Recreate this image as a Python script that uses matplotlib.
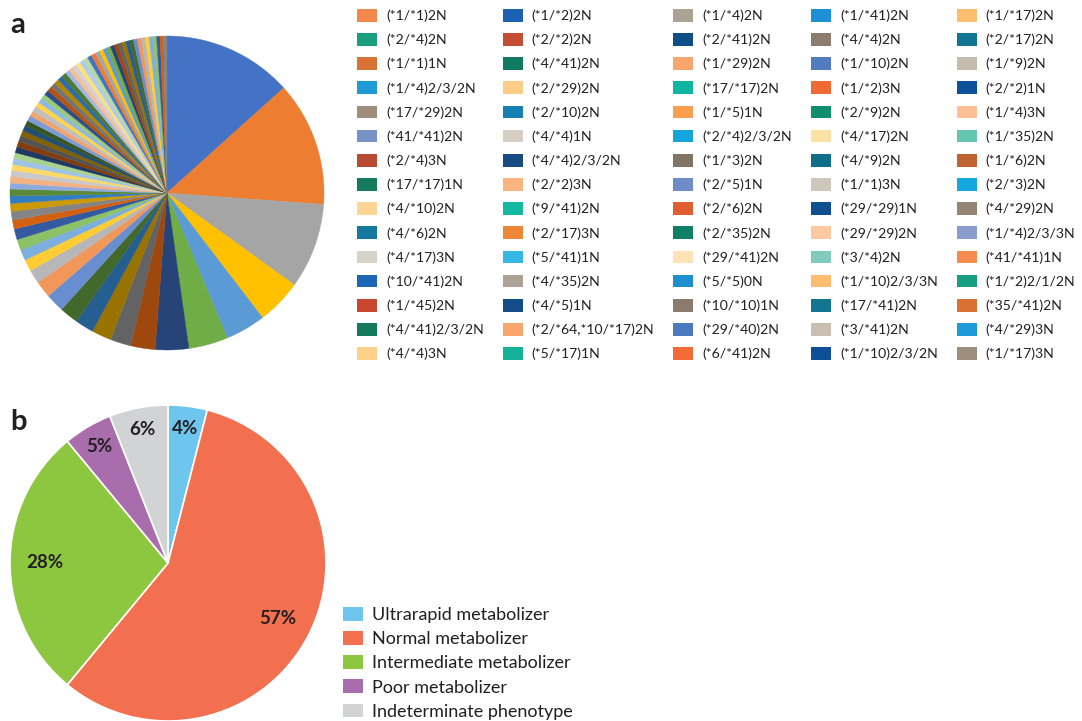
import colorsys
import numpy as np
import matplotlib.pyplot as plt
from matplotlib.colors import to_rgb
from matplotlib.patches import Patch

# ---- panel a: CYP2D6 diplotypes (row-major order, same as the legend reads) ----
labels_a = [
    "(*1/*1)2N", "(*1/*2)2N", "(*1/*4)2N", "(*1/*41)2N", "(*1/*17)2N",
    "(*2/*4)2N", "(*2/*2)2N", "(*2/*41)2N", "(*4/*4)2N", "(*2/*17)2N",
    "(*1/*1)1N", "(*4/*41)2N", "(*1/*29)2N", "(*1/*10)2N", "(*1/*9)2N",
    "(*1/*4)2/3/2N", "(*2/*29)2N", "(*17/*17)2N", "(*1/*2)3N", "(*2/*2)1N",
    "(*17/*29)2N", "(*2/*10)2N", "(*1/*5)1N", "(*2/*9)2N", "(*1/*4)3N",
    "(*41/*41)2N", "(*4/*4)1N", "(*2/*4)2/3/2N", "(*4/*17)2N", "(*1/*35)2N",
    "(*2/*4)3N", "(*4/*4)2/3/2N", "(*1/*3)2N", "(*4/*9)2N", "(*1/*6)2N",
    "(*17/*17)1N", "(*2/*2)3N", "(*2/*5)1N", "(*1/*1)3N", "(*2/*3)2N",
    "(*4/*10)2N", "(*9/*41)2N", "(*2/*6)2N", "(*29/*29)1N", "(*4/*29)2N",
    "(*4/*6)2N", "(*2/*17)3N", "(*2/*35)2N", "(*29/*29)2N", "(*1/*4)2/3/3N",
    "(*4/*17)3N", "(*5/*41)1N", "(*29/*41)2N", "(*3/*4)2N", "(*41/*41)1N",
    "(*10/*41)2N", "(*4/*35)2N", "(*5/*5)0N", "(*1/*10)2/3/3N", "(*1/*2)2/1/2N",
    "(*1/*45)2N", "(*4/*5)1N", "(*10/*10)1N", "(*17/*41)2N", "(*35/*41)2N",
    "(*4/*41)2/3/2N", "(*2/*64,*10/*17)2N", "(*29/*40)2N", "(*3/*41)2N", "(*4/*29)3N",
    "(*4/*4)3N", "(*5/*17)1N", "(*6/*41)2N", "(*1/*10)2/3/2N", "(*1/*17)3N",
]

# percent share of each diplotype
share_a = [
    13.2, 12.7, 8.7, 4.6, 4.1,
    4.0, 3.4, 2.5, 2.1, 2.0,
    1.9, 1.9, 1.9, 1.7, 1.4,
    1.2, 1.1, 1.1, 1.1, 0.9,
    0.9, 0.8, 0.75, 0.7, 0.6,
    0.65, 0.65, 0.6, 0.6, 0.6,
    0.6, 0.6, 0.6, 0.55, 0.55,
    0.55, 0.55, 0.55, 0.55, 0.5,
    0.5, 0.5, 0.5, 0.5, 0.5,
    0.5, 0.5, 0.5, 0.45, 0.45,
    0.45, 0.45, 0.45, 0.45, 0.45,
    0.45, 0.45, 0.4, 0.4, 0.4,
    0.4, 0.4, 0.4, 0.4, 0.4,
    0.4, 0.4, 0.4, 0.4, 0.4,
    0.4, 0.35, 0.35, 0.35, 0.35,
]

# swatch colours printed in the legend (they differ from the slices in the original)
legend_cols_a = [
    "#F4874B", "#1B62B3", "#ADA394", "#1E90D5", "#FDBE6E",
    "#1A9E80", "#C44E33", "#0F4F88", "#8C7C6E", "#127592",
    "#D87236", "#107A62", "#F8A66E", "#517DC0", "#C5BBAE",
    "#1E9BD7", "#FDCD88", "#0FB5A0", "#F26A33", "#0F509A",
    "#9E8E7E", "#1780B3", "#F8A050", "#0F8E70", "#FCC094",
    "#7892C8", "#D5CEC2", "#14A5DD", "#FEE0A5", "#64C6B2",
    "#B94B35", "#174B82", "#827466", "#0F6E88", "#C06232",
    "#157A5E", "#FCB57F", "#6F8BC8", "#CFC7BB", "#17A7E0",
    "#FDD595", "#15B8A0", "#DF5E32", "#0F4F90", "#958575",
    "#15789E", "#EE8638", "#0F7F68", "#FDC9A0", "#8A9DCE",
    "#D8D3CA", "#35B8E6", "#FDE3B5", "#80CBBC", "#F48C50",
    "#1D65B5", "#ADA294", "#1E90D0", "#FDBD6E", "#1A9E82",
    "#C9472F", "#134C88", "#8A7B6C", "#127592", "#D97132",
    "#157A5C", "#F8A66E", "#4D79C0", "#C8BEB2", "#1E9BD8",
    "#FDCF88", "#14B298", "#F26A36", "#0F4F96", "#9E8E7E",
]

# ---- panel b: phenotypes ----
labels_b = ["Ultrarapid metabolizer", "Normal metabolizer", "Intermediate metabolizer",
            "Poor metabolizer", "Indeterminate phenotype"]
share_b = [4, 57, 28, 5, 6]
colors_b = ["#6EC6EE", "#F26F50", "#8DC63F", "#A96DAE", "#D1D3D4"]

TXT = "#231F20"
FONT = "Lato"

# excel default pie colours: 6 accents, then darker / lighter variants
accents = ["#4472C4", "#ED7D31", "#A5A5A5", "#FFC000", "#5B9BD5", "#70AD47"]
variants = [(1, 0), (0.6, 0), (0.8, 0.2), (0.8, 0), (0.6, 0.4),
            (0.5, 0), (0.7, 0.3), (0.7, 0), (0.5, 0.5)]


def excel_color(i):
    h, l, s = colorsys.rgb_to_hls(*to_rgb(accents[i % 6]))
    mod, off = variants[(i // 6) % len(variants)]
    return colorsys.hls_to_rgb(h, min(l * mod + off, 1.0), s)


plt.rcParams['font.family'] = [FONT, 'DejaVu Sans']
W, H = 1082, 721
fig = plt.figure(figsize=(W / 100, H / 100), dpi=100)


def px_axes(cx, cy, r):
    return fig.add_axes([(cx - r) / W, 1 - (cy + r) / H, 2 * r / W, 2 * r / H])


# pie a
ax_a = px_axes(167, 193, 157)
wedges_a, _ = ax_a.pie(share_a, colors=[excel_color(i) for i in range(len(share_a))],
                       startangle=90, counterclock=False)
for w in wedges_a:
    w.set_edgecolor(w.get_facecolor())
    w.set_linewidth(0.3)
ax_a.set_xlim(-1, 1)
ax_a.set_ylim(-1, 1)

fig.text(10 / W, 1 - 33 / H, "a", fontsize=21, fontweight='bold', color=TXT)

# legend a, filled column by column so the labels read row by row
ncol = 5
nrow = len(labels_a) // ncol
order = [r * ncol + c for c in range(ncol) for r in range(nrow)]
handles = [Patch(facecolor=legend_cols_a[i], edgecolor='none') for i in order]
fig.legend(handles, [labels_a[i] for i in order], ncol=ncol,
           loc='upper left', bbox_to_anchor=(357 / W, 1 - 9 / H),
           frameon=False, fontsize=10.1, borderpad=0, borderaxespad=0,
           handlelength=1.42, handleheight=1.0, handletextpad=0.65,
           labelspacing=0.79, columnspacing=1.35, labelcolor=TXT)

# pie b
ax_b = px_axes(168, 563, 158)
wedges, _ = ax_b.pie(share_b, colors=colors_b, startangle=90, counterclock=False,
                     wedgeprops=dict(edgecolor='white', linewidth=1.2))
ax_b.set_xlim(-1, 1)
ax_b.set_ylim(-1, 1)
for w, v in zip(wedges, share_b):
    mid = np.deg2rad((w.theta1 + w.theta2) / 2)
    rr = 0.86 if v < 10 else 0.78
    ax_b.text(rr * np.cos(mid), rr * np.sin(mid), f"{v}%", ha='center', va='center',
              fontsize=13.5, fontweight='bold', color=TXT)

fig.text(10 / W, 1 - 430 / H, "b", fontsize=21, fontweight='bold', color=TXT)

fig.legend([Patch(facecolor=c, edgecolor='none') for c in colors_b], labels_b,
           loc='upper left', bbox_to_anchor=(343 / W, 1 - 607 / H),
           frameon=False, fontsize=13, borderpad=0, borderaxespad=0,
           handlelength=1.1, handleheight=0.8, handletextpad=0.5,
           labelspacing=0.44, labelcolor=TXT)

fig.savefig("out.png", dpi=100)
